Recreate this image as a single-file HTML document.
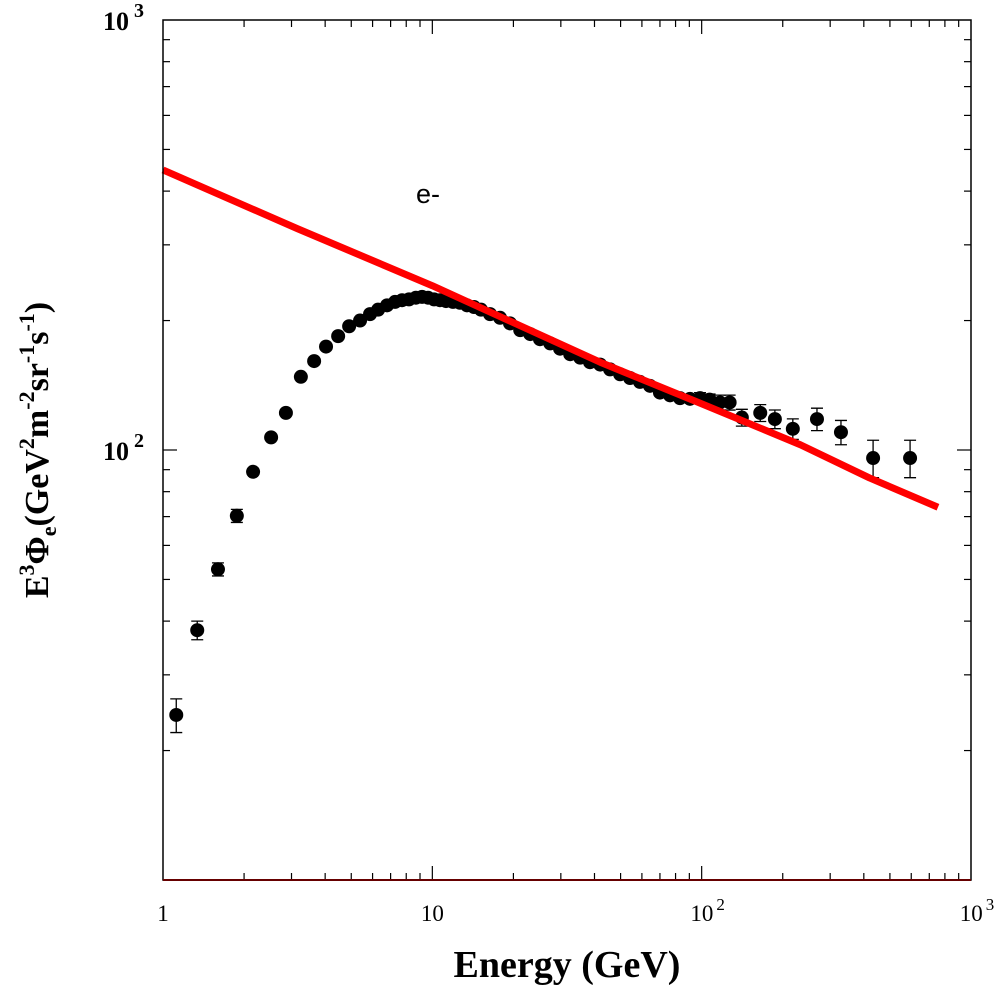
<!DOCTYPE html>
<html><head><meta charset="utf-8"><style>
html,body{margin:0;padding:0;background:#fff;}
svg{display:block;font-family:"Liberation Serif",serif;}
</style></head><body>
<svg id="chart" width="1000" height="985" viewBox="0 0 1000 985" xmlns="http://www.w3.org/2000/svg">
<g id="grid"></g>
<g id="points"></g>
<g id="curve"></g>
<rect x="163" y="20" width="808" height="860" fill="none" stroke="#000" stroke-width="1.5"/>
<line x1="163" y1="880" x2="971" y2="880" stroke="#600" stroke-width="2"/>
<text x="416" y="203" font-size="27" font-family="Liberation Sans, sans-serif">e-</text>
<text x="567" y="977" font-size="38" font-weight="bold" text-anchor="middle">Energy (GeV)</text>
<text transform="translate(48,450) rotate(-90)" font-size="34" font-weight="bold" text-anchor="middle">E<tspan font-size="22" dy="-14">3</tspan><tspan dy="14">Φ</tspan><tspan font-size="22" dy="8">e</tspan><tspan dy="-8">(GeV</tspan><tspan font-size="22" dy="-14">2</tspan><tspan dy="14">m</tspan><tspan font-size="22" dy="-14">-2</tspan><tspan dy="14">sr</tspan><tspan font-size="22" dy="-14">-1</tspan><tspan dy="14">s</tspan><tspan font-size="22" dy="-14">-1</tspan><tspan dy="14">)</tspan></text>
</svg>
<script>
const energies=[1.12,1.34,1.60,1.88,2.16,2.52,2.86,3.25,3.64,4.03,4.47,4.91,5.39,5.87,6.29,6.79,7.27,7.72,8.19,8.69,9.16,9.64,10.15,10.67,11.24,11.93,12.67,13.45,14.28,15.16,16.38,17.84,19.43,21.2,23.1,25.1,27.4,29.8,32.5,35.4,38.5,42.0,45.7,49.8,54.2,59.0,64.3,70.0,76.3,83.1,90.5,98.6,107,117,127,141,165,187,218,268,329,433,594];
const fluxes=[24.2,38.1,52.8,70.3,89.0,107,122,148,161,174,184,194,200,207,212,217,221,223,224,226,227,226,224,223,222,221,220,217,215,212,207,203,197,190,186,181,177,172,167,164,160,158,154,150,147,144,141,136,134,132,131.5,132,131,129,129,119,122,118,112,118,110,95.8,95.8];
const errRel=[0.09,0.05,0.035,0.035,0.02,0.02,0.02,0.02,0.02,0.02,0.02,0.02,0.02,0.02,0.02,0.02,0.02,0.02,0.02,0.02,0.02,0.02,0.02,0.02,0.02,0.02,0.02,0.02,0.02,0.02,0.02,0.02,0.02,0.02,0.02,0.02,0.02,0.02,0.02,0.02,0.02,0.02,0.02,0.02,0.02,0.02,0.02,0.02,0.02,0.02,0.02,0.03,0.03,0.04,0.04,0.045,0.045,0.05,0.055,0.06,0.065,0.1,0.1];
const modelE=[1,3.16,10,42,98.6,233,420,754];
const modelF=[448,327,241,160,128.5,102.8,86.1,73.6];
const xTicks=[1,10,100,1000];
const xTickLabels=[["1",""],["10",""],["10","2"],["10","3"]];
const yTicks=[100,1000];
const yTickLabels=[["10","2"],["10","3"]];

const L=163,R=971,T=20,B=880;
const xs=v=>L+(Math.log10(v)-0)/3*(R-L);
const ys=v=>B-(Math.log10(v)-1)/2*(B-T);
const NS="http://www.w3.org/2000/svg";
function mk(tag,attrs,parent){const e=document.createElementNS(NS,tag);for(const k in attrs)e.setAttribute(k,attrs[k]);parent.appendChild(e);return e;}
const grid=document.getElementById('grid');
for(let d=0;d<3;d++){for(let m=1;m<10;m++){const v=Math.pow(10,d)*m;const x=xs(v);const len=m===1?14:7;
 if(m===1&&d===0)continue;
 const t1=mk('line',{x1:x,y1:B,x2:x,y2:B-len,stroke:'#000','stroke-width':1.2},grid);
 
 
 const t2=mk('line',{x1:x,y1:T,x2:x,y2:T+len,stroke:'#000','stroke-width':1.2},grid);
 
 }}
for(let d=1;d<3;d++){for(let m=1;m<10;m++){const v=Math.pow(10,d)*m;const y=ys(v);const len=m===1?14:7;
 if(m===1&&d===1)continue;
 const t1=mk('line',{x1:L,y1:y,x2:L+len,y2:y,stroke:'#000','stroke-width':1.2},grid);
 
 
 const t2=mk('line',{x1:R,y1:y,x2:R-len,y2:y,stroke:'#000','stroke-width':1.2},grid);
 
 }}
xTicks.forEach((v,i)=>{const t=mk('text',{x:xs(v),y:921,'font-size':23,'text-anchor':'middle'},grid);
 
 
 t.textContent=xTickLabels[i][0];
 if(xTickLabels[i][1]){const s=mk('tspan',{'font-size':17,dy:-11,dx:3},t);s.textContent=xTickLabels[i][1];t.setAttribute('x',xs(v)+6);}});
yTicks.forEach((v,i)=>{const t=mk('text',{x:103,y:ys(v)+10,'font-size':26,'font-weight':'bold'},grid);
 
 
 t.textContent=yTickLabels[i][0];
 const s=mk('tspan',{'font-size':20,dy:-13,dx:5},t);s.textContent=yTickLabels[i][1];});
const curve=document.getElementById('curve');
const p=mk('polyline',{points:modelE.map((e,i)=>xs(e)+','+ys(modelF[i])).join(' '),fill:'none',stroke:'#f00','stroke-width':7,'stroke-linejoin':'round'},curve);


const pts=document.getElementById('points');
energies.forEach((e,i)=>{const x=xs(e),y=ys(fluxes[i]);const er=errRel[i];
 if(er>=0.03){const y1=ys(fluxes[i]*(1+er)),y2=ys(fluxes[i]*(1-er));
  const g=mk('path',{d:`M${x},${y1}V${y2}M${x-6},${y1}H${x+6}M${x-6},${y2}H${x+6}`,stroke:'#000','stroke-width':1.3,fill:'none'},pts);
  
  }
 const c=mk('circle',{cx:x,cy:y,r:7,fill:'#000'},pts);
 
 });
</script>
</body></html>
